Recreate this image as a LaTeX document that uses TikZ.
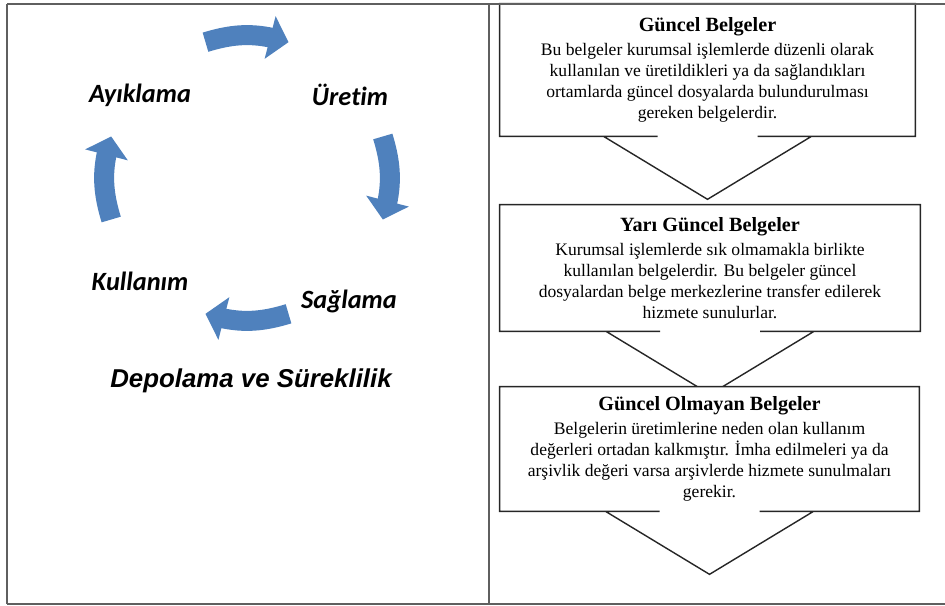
\documentclass[tikz,border=0pt]{standalone}
\usepackage{fontspec}
\setmainfont{Liberation Serif}
\newfontfamily\calibfont[Ligatures=NoCommon]{Carlito}
\newfontfamily\arialfont{Liberation Sans}
\usetikzlibrary{arrows.meta,bending,positioning,calc,backgrounds}
\definecolor{CycBlue}{HTML}{4F81BD}
\definecolor{Frame}{HTML}{5F5F5F}
\tikzset{
  frame/.style={draw=Frame,line width=1.2pt},
  cycarrow/.style={draw=CycBlue,line width=.4cm,
    -{Triangle[width=.86cm,length=.38cm,flex]}},
  stage/.style={font=\calibfont\fontsize{15}{18}\selectfont\bfseries\itshape},
  docbox/.style={inner sep=0pt,align=center,
    font=\fontsize{10}{11.9}\selectfont},
  callout/.style={draw=black!85,line width=.8pt,fill=white,line join=miter}
}
\newcommand{\boxtitle}[1]{{\fontsize{11.5}{13}\selectfont\bfseries #1}\\[1.5pt]}

\begin{document}
\begin{tikzpicture}[x=.02cm,y=.02cm]
  \useasboundingbox (0,0) rectangle (945,605);
  % table lines
  \draw[frame] (7,601) -- (945,601);
  \draw[frame] (7,1) -- (945,1);
  \draw[frame] (7,601) -- (7,1);
  \draw[frame] (489,601) -- (489,1);

  % cycle
  \coordinate (cyc) at (247,427);
  \node[stage] (ayik) at (140,510) {Ayıklama};
  \node[stage] (uret) at (350,510) {Üretim};
  \node[stage] (kull) at (140,324) {Kullanım};
  \node[stage] (sagl) at (349,304) {Sağlama};
  \node[font=\arialfont\fontsize{14.7}{17}\selectfont\bfseries\itshape] (depo) at (251,224) {Depolama ve Süreklilik};
  \foreach \a/\n in {90/t,0/r,-90/b,180/l}{
    \path (cyc) ++(\a+17:142) coordinate (\n s);
    \path (cyc) ++(\a-17:142) coordinate (\n e);
    \draw[cycarrow] (\n s) to[bend left=17] (\n e);
  }

  % document boxes
  \node[docbox,minimum width=8.3cm,minimum height=2.64cm] (b1) at (707.5,535)
    {\boxtitle{Güncel Belgeler}
     Bu belgeler kurumsal işlemlerde düzenli olarak\\
     kullanılan ve üretildikleri ya da sağlandıkları\\
     ortamlarda güncel dosyalarda bulundurulması\\
     gereken belgelerdir.};
  \node[docbox,minimum width=8.4cm,minimum height=2.52cm] (b2) at (710,337)
    {\boxtitle{Yarı Güncel Belgeler}
     Kurumsal işlemlerde sık olmamakla birlikte\\
     kullanılan belgelerdir. Bu belgeler güncel\\
     dosyalardan belge merkezlerine transfer edilerek\\
     hizmete sunulurlar.};
  \node[docbox,minimum width=8.38cm,minimum height=2.48cm] (b3) at (709.5,156)
    {\boxtitle{Güncel Olmayan Belgeler}
     Belgelerin üretimlerine neden olan kullanım\\
     değerleri ortadan kalkmıştır. İmha edilmeleri ya da\\
     arşivlik değeri varsa arşivlerde hizmete sunulmaları\\
     gerekir.};
  \begin{scope}[on background layer]
    \foreach \b in {b1,b2,b3}
      \draw[callout] (\b.north west) -- (\b.north east) -- (\b.south east)
        -- ($(\b.south)+(50,0)$) -- ($(\b.south)+(104,0)$) -- ($(\b.south)+(0,-63)$)
        -- ($(\b.south)+(-104,0)$) -- ($(\b.south)+(-50,0)$) -- (\b.south west) -- cycle;
  \end{scope}
\end{tikzpicture}
\end{document}
